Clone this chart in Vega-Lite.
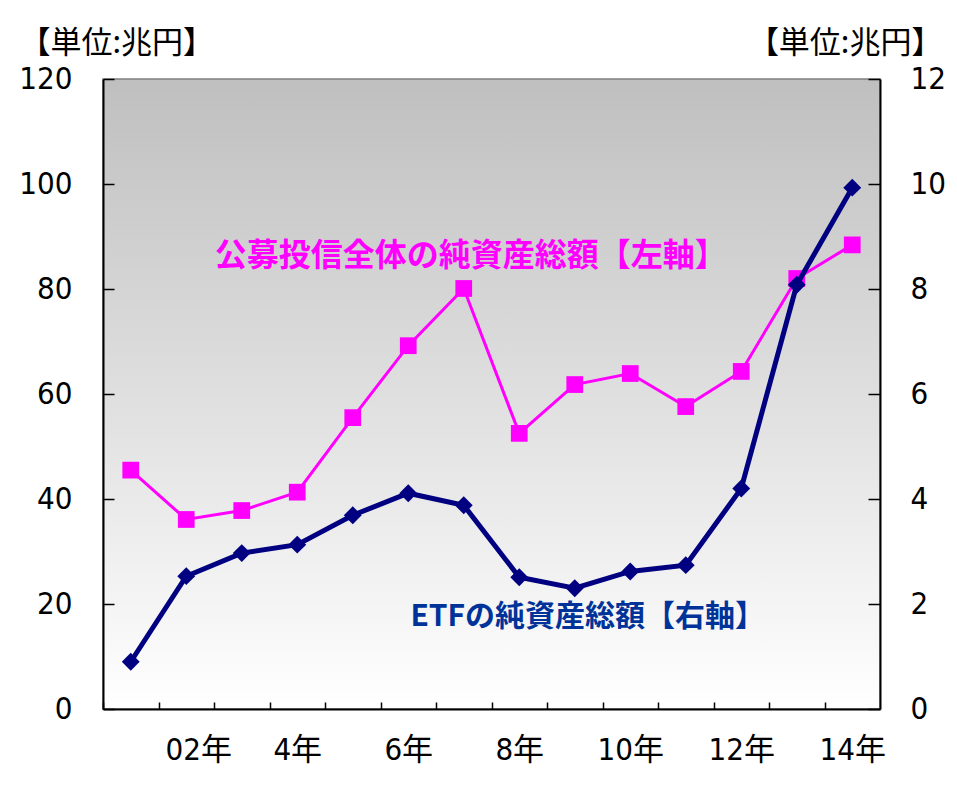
{
  "$schema": "https://vega.github.io/schema/vega-lite/v6.json",
  "width": 777,
  "height": 630,
  "autosize": {"type": "none"},
  "padding": {"left": 103, "top": 79, "right": 77, "bottom": 84},
  "background": "white",
  "config": {
    "view": {
      "fill": {"gradient": "linear", "x1": 0, "y1": 0, "x2": 0, "y2": 1,
        "stops": [{"offset": 0, "color": "#bfbfbf"}, {"offset": 1, "color": "#ffffff"}]},
      "stroke": "#808080",
      "strokeWidth": 1.5
    },
    "axis": {
      "labelFont": "DejaVu Sans Condensed, Noto Sans CJK JP",
      "labelFontSize": 31,
      "labelColor": "black",
      "domainColor": "black",
      "domainWidth": 2,
      "tickColor": "black",
      "tickWidth": 1.5,
      "grid": false,
      "titleFont": "Noto Sans CJK JP",
      "titleFontSize": 31,
      "titleFontWeight": "normal",
      "titleColor": "black"
    }
  },
  "data": {
    "values": [
      {"year": 2001, "fund": 45.5, "etf": 0.90},
      {"year": 2002, "fund": 36.1, "etf": 2.53},
      {"year": 2003, "fund": 37.8, "etf": 2.97},
      {"year": 2004, "fund": 41.3, "etf": 3.13},
      {"year": 2005, "fund": 55.5, "etf": 3.69},
      {"year": 2006, "fund": 69.2, "etf": 4.11},
      {"year": 2007, "fund": 80.1, "etf": 3.88},
      {"year": 2008, "fund": 52.5, "etf": 2.51},
      {"year": 2009, "fund": 61.8, "etf": 2.30},
      {"year": 2010, "fund": 63.9, "etf": 2.62},
      {"year": 2011, "fund": 57.6, "etf": 2.74},
      {"year": 2012, "fund": 64.3, "etf": 4.20},
      {"year": 2013, "fund": 82.0, "etf": 8.08},
      {"year": 2014, "fund": 88.4, "etf": 9.93}
    ]
  },
  "encoding": {
    "x": {
      "field": "year",
      "type": "ordinal",
      "scale": {"type": "point", "padding": 0.5},
      "axis": {
        "title": null,
        "labelAngle": 0,
        "labelExpr": "datum.value == 2002 ? '02年' : (datum.value % 2 == 0 ? (datum.value - 2000) + '年' : '')",
        "tickSize": -7,
        "tickOffset": -27.75,
        "labelOffset": {"condition": {"test": "datum.value == 2002", "value": 39.75}, "value": 27.75},
        "labelPadding": 33,
        "labelBaseline": "top"
      }
    }
  },
  "layer": [
    {
      "encoding": {
        "y": {
          "field": "fund",
          "type": "quantitative",
          "scale": {"domain": [0, 120]},
          "axis": {
            "orient": "left",
            "values": [0, 20, 40, 60, 80, 100, 120],
            "tickSize": -11,
            "labelPadding": 42,
            "title": "【単位:兆円】",
            "titleAngle": 0,
            "titleAlign": "left",
            "titleBaseline": "middle",
            "titleX": -84,
            "titleY": -36
          }
        }
      },
      "layer": [
        {"mark": {"type": "line", "color": "#ff00ff", "strokeWidth": 3}},
        {"mark": {"type": "point", "shape": "square", "filled": true, "size": 280, "color": "#ff00ff", "opacity": 1}}
      ]
    },
    {
      "encoding": {
        "y": {
          "field": "etf",
          "type": "quantitative",
          "scale": {"domain": [0, 12]},
          "axis": {
            "orient": "right",
            "values": [0, 2, 4, 6, 8, 10, 12],
            "tickSize": -12,
            "labelPadding": 42,
            "title": "【単位:兆円】",
            "titleAngle": 0,
            "titleAlign": "right",
            "titleBaseline": "middle",
            "titleX": 62,
            "titleY": -36
          }
        }
      },
      "layer": [
        {"mark": {"type": "line", "color": "#000080", "strokeWidth": 5}},
        {"mark": {"type": "point", "shape": "diamond", "filled": true, "size": 320, "color": "#000080", "opacity": 1}}
      ]
    },
    {
      "data": {"values": [{"label": "公募投信全体の純資産総額【左軸】", "year": 2007, "pos": 86.3}]},
      "mark": {"type": "text", "font": "Noto Sans CJK JP", "fontSize": 32, "fontWeight": "bold", "color": "#ff00ff", "align": "center", "baseline": "middle", "dx": 7},
      "encoding": {
        "y": {"field": "pos", "type": "quantitative", "scale": {"domain": [0, 120]}, "axis": null},
        "text": {"field": "label"}
      }
    },
    {
      "data": {"values": [{"label": "ETFの純資産総額【右軸】", "year": 2009, "pos": 17.5}]},
      "mark": {"type": "text", "font": "Noto Sans CJK JP", "fontSize": 30, "fontWeight": "bold", "color": "#003399", "align": "center", "baseline": "middle", "dx": 13},
      "encoding": {
        "y": {"field": "pos", "type": "quantitative", "scale": {"domain": [0, 120]}, "axis": null},
        "text": {"field": "label"}
      }
    }
  ],
  "resolve": {"scale": {"y": "independent"}}
}
